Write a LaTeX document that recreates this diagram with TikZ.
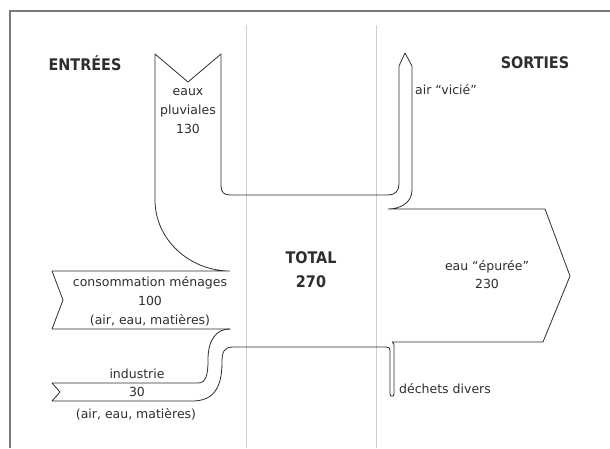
\documentclass[tikz,border=0pt]{standalone}
\usepackage{fontspec}
\setmainfont{DejaVu Sans}
\newfontfamily\titlefont{DejaVu Sans Condensed}
\usetikzlibrary{calc}
\definecolor{ink}{HTML}{2E2E2E}
\definecolor{rule}{HTML}{CFCFCF}
\definecolor{edge}{HTML}{7A7A7A}
\tikzset{flow/.style={draw=ink,line width=.8pt,line join=round},guide/.style={draw=rule,line width=.7pt},frame/.style={draw=edge,line width=1.2pt},lbl/.style={font=\fontsize{12.5}{19}\selectfont,text=ink,align=center,inner sep=0pt},ttl/.style={font=\titlefont\bfseries\fontsize{16}{24}\selectfont,text=ink,align=center,inner sep=0pt}}

\begin{document}
\begin{tikzpicture}[x=1pt,y=-1pt]
\useasboundingbox (0,0) rectangle (610,448);
\draw[frame] (10,448)--(10,11)--(610,11);
\draw[guide] (246,25)--(246,448);
\draw[guide] (376,25)--(376,448);
% entrees
\draw[flow] (221,54)--(188,82)--(155,54)--(155,200) .. controls (155,240) and (190,271) .. (230,271)--(52,271)--(63,300)--(52,329)--(230,329);
\draw[flow] (230,329) .. controls (216,329) and (208,340) .. (208,360) .. controls (208,375) and (206,383) .. (198,383)--(52,383)--(60,392)--(52,401)--(192,401) .. controls (212,401) and (222,390) .. (222,362) .. controls (222,352) and (224,347) .. (233,347)--(386,347);
% sorties
\draw[flow] (221,54)--(221,186) .. controls (221,192) and (224,195) .. (230,195)--(388,195) .. controls (395,195) and (399,191) .. (399,184)--(399,66)--(405,53)--(412,66)--(412,190) .. controls (412,203) and (400,209) .. (388,209)--(545,209)--(570,276)--(543,342)--(392,342);
\draw[flow] (392,342) .. controls (394,343) .. (394,350)--(394,394) .. controls (394,397) and (390,397) .. (390,394)--(390,351) .. controls (390,348) .. (386,347);
% textes
\node[ttl] (entrees) at (85,63) {ENTRÉES};
\node[ttl] (sorties) at (535,63) {SORTIES};
\node[ttl] (total) at (311,270) {TOTAL\\270};
\node[lbl] (pluie) at (188,111) {eaux\\pluviales\\130};
\node[lbl,anchor=west] (air) at (415,90) {air “vicié”};
\node[lbl] (menages) at (150,301) {consommation ménages\\100\\(air, eau, matières)};
\node[lbl,font=\fontsize{12.5}{18}\selectfont] (industrie) at (137,383) {industrie\\30};
\node[lbl] (indmat) at (136,414) {(air, eau, matières)};
\node[lbl,font=\fontsize{12.5}{18}\selectfont] (eau) at (487,275) {eau “épurée”\\230};
\node[lbl,anchor=west] (dechets) at (399,389) {déchets divers};
\end{tikzpicture}
\end{document}
